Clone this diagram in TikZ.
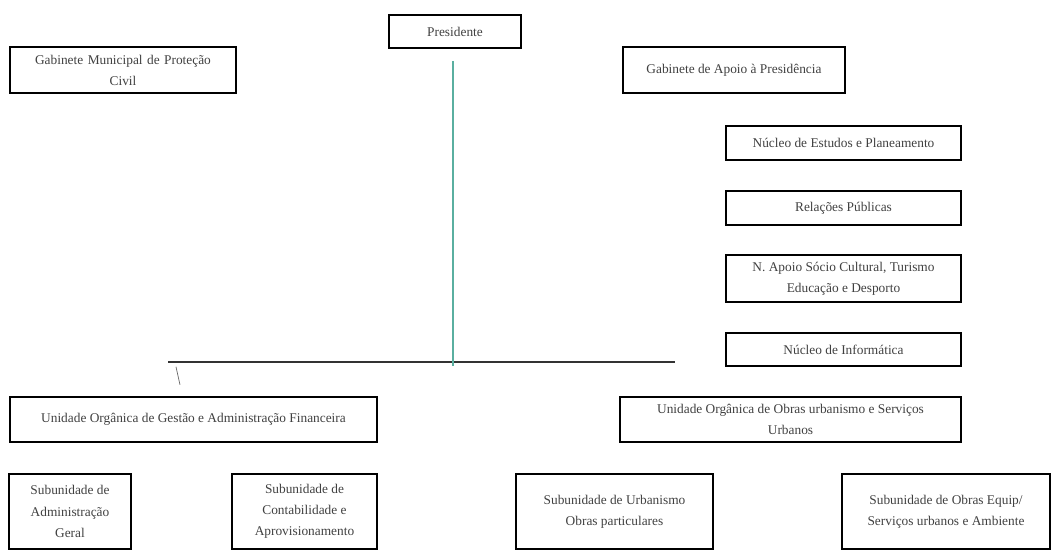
\documentclass[tikz,border=0pt]{standalone}
\usepackage{fontspec}
\setmainfont{Liberation Serif}
\usetikzlibrary{
	calc,
	positioning,
}
\definecolor{tealline}{RGB}{90,175,160}

\begin{document}
\begin{tikzpicture}[
                    orgbox/.style={draw, line width=1.1pt, align=center, inner sep=1pt,
                        font=\fontsize{9.5}{15}\selectfont, text=black!75},
                ]
                \useasboundingbox (0,0) rectangle (26.3,-13.75);
                % top level
                \node[orgbox, minimum width=3.3cm, minimum height=0.825cm] (pres) at (11.375,-0.7875) {Presidente};
                \node[orgbox, minimum width=5.65cm, minimum height=1.15cm, text width=5.4cm] (gabpc) at (3.075,-1.75)
                    {Gabinete Municipal de Proteção\\Civil};
                \node[orgbox, minimum width=5.55cm, minimum height=1.15cm] (gabap) at (18.35,-1.75)
                    {Gabinete de Apoio à Presidência};
                % nucleos
                \node[orgbox, minimum width=5.875cm, minimum height=0.85cm] (nep) at (21.0875,-3.575)
                    {Núcleo de Estudos e Planeamento};
                \node[orgbox, minimum width=5.875cm, minimum height=0.85cm] (rp) at (21.0875,-5.2)
                    {Relações Públicas};
                \node[orgbox, minimum width=5.875cm, minimum height=1.175cm] (nasc) at (21.0875,-6.9625)
                    {N. Apoio Sócio Cultural, Turismo\\Educação e Desporto};
                \node[orgbox, minimum width=5.875cm, minimum height=0.825cm] (ni) at (21.0875,-8.7375)
                    {Núcleo de Informática};
                % unidades
                \node[orgbox, minimum width=9.175cm, minimum height=1.125cm] (uogaf) at (4.8375,-10.4875)
                    {Unidade Orgânica de Gestão e Administração Financeira};
                \node[orgbox, minimum width=8.525cm, minimum height=1.125cm] (uoous) at (19.7625,-10.4875)
                    {Unidade Orgânica de Obras urbanismo e Serviços\\Urbanos};
                % subunidades
                \node[orgbox, minimum width=3.05cm, minimum height=1.875cm] (sag) at (1.75,-12.7875)
                    {Subunidade de\\Administração\\Geral};
                \node[orgbox, minimum width=3.625cm, minimum height=1.875cm] (sca) at (7.6125,-12.7875)
                    {Subunidade de\\Contabilidade e\\Aprovisionamento};
                \node[orgbox, minimum width=4.925cm, minimum height=1.875cm] (suop) at (15.3625,-12.7875)
                    {Subunidade de Urbanismo\\Obras particulares};
                \node[orgbox, minimum width=5.2cm, minimum height=1.875cm] (soes) at (23.65,-12.7875)
                    {Subunidade de Obras Equip/\\Serviços urbanos e Ambiente};
                % connectors
                \coordinate (hl) at (4.2,-9.05);
                \coordinate (hr) at (16.875,-9.05);
                \coordinate (tk) at (4.5,-9.62);
                \draw[line width=0.9pt, black!80] (hl) -- (hr);
                \draw[tealline, line width=0.9pt] ([xshift=-0.05cm, yshift=-0.3cm]pres.south) -- ([xshift=-0.05cm, yshift=-0.1cm]pres.south |- hl);
                \draw[black!60, line width=0.5pt] ([xshift=0.2cm, yshift=-0.12cm]hl) -- (tk);
\end{tikzpicture}
\end{document}
